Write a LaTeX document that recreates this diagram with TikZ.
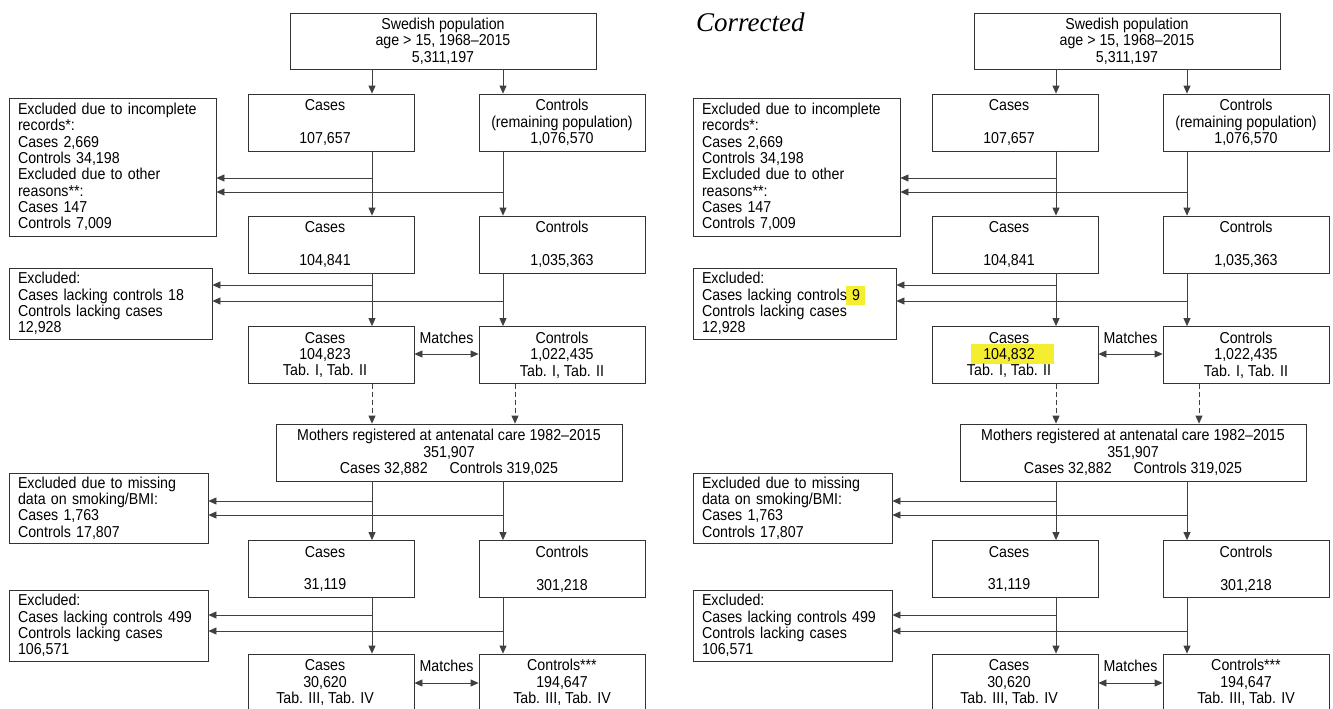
\documentclass[tikz,border=0pt]{standalone}
\usepackage{fontspec}
\setmainfont{Liberation Sans}[FakeStretch=0.9]
\newfontfamily\corrfont{Liberation Serif}
\usetikzlibrary{arrows.meta}
\definecolor{hl}{RGB}{245,238,48}
\newcommand{\txt}{\fontsize{15.8}{16.3}\selectfont}
\newcommand{\cs}[1]{\parbox{140pt}{\centering #1}\hspace*{12pt}}
\newcommand{\ct}[1]{\parbox{160pt}{\centering #1}}
\newcommand{\drawpanel}[3]{%
\coordinate (#1A) at (372,0);
\coordinate (#1B) at (503,0);
\coordinate (#1D) at (515,0);
\node[bx,minimum width=306pt,minimum height=56pt] (#1top) at (443,41) {\parbox{290pt}{\centering Swedish population\\age > 15, 1968–2015\\5,311,197}};
\node[bx] (#1c1) at (331,122.5) {\cs{Cases\\~\\107,657}};
\node[bx] (#1k1) at (562,122.5) {\ct{Controls\\(remaining population)\\1,076,570}};
\node[exb,text width=189pt,minimum height=138pt] (#1e1) at (112.5,167) {\mbox{Excluded due to incomplete}\\\mbox{records*:}\\\mbox{Cases 2,669}\\\mbox{Controls 34,198}\\\mbox{Excluded due to other}\\\mbox{reasons**:}\\\mbox{Cases 147}\\\mbox{Controls 7,009}};
\node[bx] (#1c2) at (331,244.5) {\cs{Cases\\~\\104,841}};
\node[bx] (#1k2) at (562,244.5) {\ct{Controls\\~\\1,035,363}};
\node[exb,text width=185pt,minimum height=71pt] (#1e2) at (110.5,303.5) {\mbox{Excluded:}\\\mbox{Cases lacking controls #2}\\\mbox{Controls lacking cases}\\\mbox{12,928}};
\node[bx] (#1c3) at (331,355) {\cs{Cases\\#3\\Tab. I, Tab. II}};
\node[bx] (#1k3) at (562,355) {\ct{Controls\\1,022,435\\Tab. I, Tab. II}};
\node[bx,minimum width=346pt] (#1m) at (449,452.5) {\parbox{330pt}{\centering Mothers registered at antenatal care 1982–2015\\351,907\\Cases 32,882\hspace{22pt}Controls 319,025}};
\node[exb,text width=181pt,minimum height=70pt] (#1e3) at (108.5,508) {\mbox{Excluded due to missing}\\\mbox{data on smoking/BMI:}\\\mbox{Cases 1,763}\\\mbox{Controls 17,807}};
\node[bx] (#1c4) at (331,569) {\cs{Cases\\~\\31,119}};
\node[bx] (#1k4) at (562,569) {\ct{Controls\\~\\301,218}};
\node[exb,text width=181pt,minimum height=71pt] (#1e4) at (108.5,625.5) {\mbox{Excluded:}\\\mbox{Cases lacking controls 499}\\\mbox{Controls lacking cases}\\\mbox{106,571}};
\node[bx] (#1c5) at (331,682.5) {\cs{Cases\\30,620\\Tab. III, Tab. IV}};
\node[bx] (#1k5) at (562,682.5) {\ct{Controls***\\194,647\\Tab. III, Tab. IV}};
% vertical connectors
\draw[ar] (#1top.south -| #1A) -- (#1c1.north -| #1A);
\draw[ar] (#1top.south -| #1B) -- (#1k1.north -| #1B);
\draw[ar] (#1c1.south -| #1A) -- (#1c2.north -| #1A);
\draw[ar] (#1k1.south -| #1B) -- (#1k2.north -| #1B);
\draw[ar] (#1c2.south -| #1A) -- (#1c3.north -| #1A);
\draw[ar] (#1k2.south -| #1B) -- (#1k3.north -| #1B);
\draw[dsh] (#1c3.south -| #1A) -- (#1m.north -| #1A);
\draw[dsh] (#1k3.south -| #1D) -- (#1m.north -| #1D);
\draw[ar] (#1m.south -| #1A) -- (#1c4.north -| #1A);
\draw[ar] (#1m.south -| #1B) -- (#1k4.north -| #1B);
\draw[ar] (#1c4.south -| #1A) -- (#1c5.north -| #1A);
\draw[ar] (#1k4.south -| #1B) -- (#1k5.north -| #1B);
% exclusion branches
\coordinate (#1j1) at (372,178);
\coordinate (#1j2) at (503,192);
\coordinate (#1j3) at (372,285);
\coordinate (#1j4) at (503,301);
\coordinate (#1j5) at (372,501);
\coordinate (#1j6) at (503,515);
\coordinate (#1j7) at (372,615);
\coordinate (#1j8) at (503,631);
\draw[ar] (#1j1) -- (#1j1 -| #1e1.east);
\draw[ar] (#1j2) -- (#1j2 -| #1e1.east);
\draw[ar] (#1j3) -- (#1j3 -| #1e2.east);
\draw[ar] (#1j4) -- (#1j4 -| #1e2.east);
\draw[ar] (#1j5) -- (#1j5 -| #1e3.east);
\draw[ar] (#1j6) -- (#1j6 -| #1e3.east);
\draw[ar] (#1j7) -- (#1j7 -| #1e4.east);
\draw[ar] (#1j8) -- (#1j8 -| #1e4.east);
% matches
\coordinate (#1y3) at (0,354);
\coordinate (#1y5) at (0,683);
\draw[dar] (#1c3.east |- #1y3) -- (#1k3.west |- #1y3) node[lbl,midway,yshift=16pt] (#1mt3) {Matches};
\draw[dar] (#1c5.east |- #1y5) -- (#1k5.west |- #1y5) node[lbl,midway,yshift=17pt] (#1mt5) {Matches};
}
\begin{document}
\begin{tikzpicture}[x=1pt,y=-1pt,
  bx/.style={draw=black!80, line width=0.8pt, inner sep=0pt, minimum width=166pt, minimum height=57pt, font=\txt},
  exb/.style={bx, align=left, inner xsep=9pt, inner ysep=0pt},
  ar/.style={draw=black!75, line width=0.8pt, -{Triangle[length=8pt,width=7pt]}},
  dar/.style={ar, {Triangle[length=8pt,width=7pt]}-{Triangle[length=8pt,width=7pt]}},
  dsh/.style={ar, dash pattern=on 5pt off 3pt},
  lbl/.style={font=\txt, inner sep=0pt}]
\fill[white] (0,0) rectangle (1333,709);
\useasboundingbox (0,0) rectangle (1333,709);
\drawpanel{L}{18}{104,823}
\node[anchor=base west, inner sep=0pt, font=\corrfont\itshape\fontsize{27}{30}\selectfont] (corr) at (696,32) {Corrected};
\begin{scope}[xshift=684pt]
\fill[hl] (162,286) rectangle (181,305);
\fill[hl] (287,344) rectangle (370,364);
\drawpanel{R}{9}{104,832}
\end{scope}
\end{tikzpicture}
\end{document}
